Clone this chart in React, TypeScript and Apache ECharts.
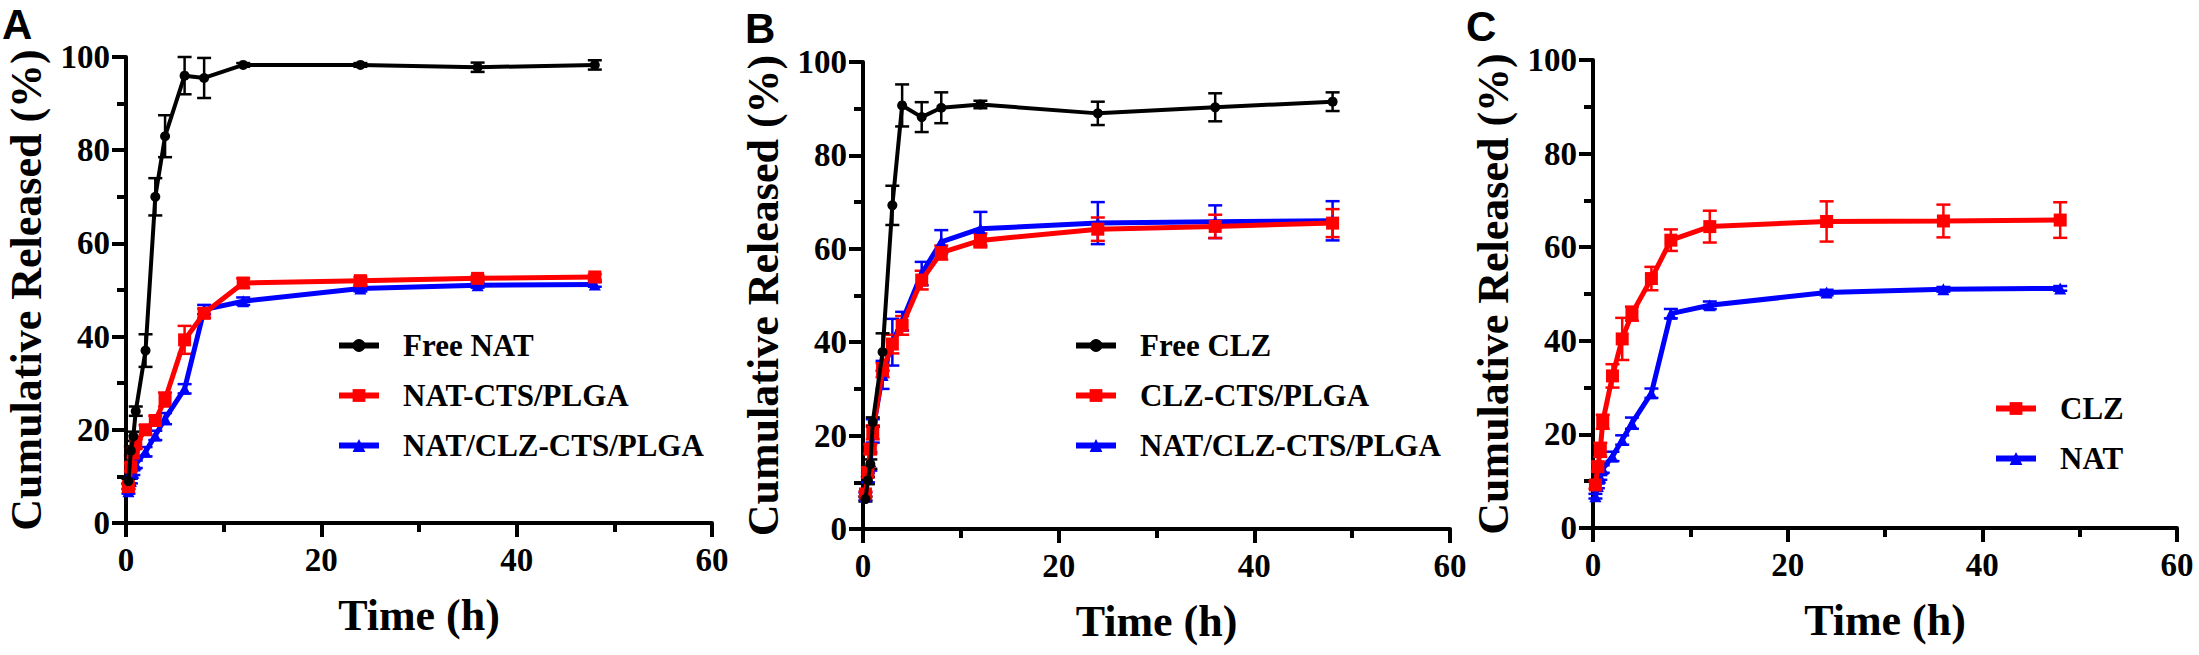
import React, { useEffect, useRef } from "react";
import * as echarts from "echarts";

// ---------- data ----------
const timeH = [0.25, 0.5, 0.75, 1, 2, 3, 4, 6, 8, 12, 24, 36, 48];
const xTicks = [0, 20, 40, 60];
const yTicks = [0, 20, 40, 60, 80, 100];

// Panel A
const freeNat = [9.0, 15.5, 18.6, 24.0, 37.0, 70.0, 83.0, 96.0, 95.5, 98.3, 98.3, 97.8, 98.3];
const freeNatSd = [0.5, 1, 1, 1, 3.5, 4, 4.5, 4, 4.3, 0.4, 0.4, 1, 1];
const natCtsPlga = [7.8, 12.0, 15.0, 17.0, 20.0, 22.0, 26.5, 39.3, 45.0, 51.5, 52.0, 52.5, 52.8];
const natCtsPlgaSd = [0.5, 0.8, 0.8, 1, 1, 1, 1.5, 3, 1, 1, 0.8, 0.6, 0.6];
const natClzA = [6.8, 9.0, 10.8, 12.6, 15.3, 18.8, 22.4, 28.8, 45.8, 47.6, 50.3, 51.0, 51.2];
const natClzASd = [0.5, 0.5, 0.5, 0.8, 1, 1, 1.2, 1, 1, 0.8, 0.6, 0.5, 0.5];

// Panel B
const freeClz = [6.4, 10.4, 13.9, 22.9, 37.9, 69.3, 90.7, 88.2, 90.2, 90.9, 89.0, 90.3, 91.5];
const freeClzSd = [0.5, 0.8, 1, 1, 4, 4.2, 4.5, 3.2, 3.3, 0.8, 2.5, 3, 2];
const clzCtsPlga = [7.5, 12.1, 17.1, 20.7, 34.0, 39.6, 43.6, 53.3, 59.2, 61.8, 64.2, 64.8, 65.5];
const clzCtsPlgaSd = [0.5, 1, 1, 1.5, 1.5, 2, 2, 2, 1.5, 1.5, 2.5, 2.5, 3];
const natClzB = [7.0, 11.0, 14.5, 21.0, 33.0, 40.0, 44.5, 54.7, 61.5, 64.3, 65.5, 65.8, 66.0];
const natClzBSd = [0.8, 1, 2, 2.5, 3, 5, 2, 2.5, 2.5, 3.6, 4.5, 3.5, 4.2];

// Panel C
const clzC = [9.2, 13.1, 16.7, 22.7, 32.5, 40.4, 45.8, 53.3, 61.5, 64.4, 65.5, 65.6, 65.8];
const clzCSd = [0.8, 1, 1.5, 1.5, 2.5, 4.5, 1.5, 2.5, 2.3, 3.4, 4.3, 3.5, 3.8];
const natC = [6.8, 9.0, 10.8, 12.6, 15.3, 18.8, 22.4, 28.8, 45.8, 47.6, 50.3, 51.0, 51.2];
const natCSd = [0.5, 0.5, 0.5, 0.8, 1, 1, 1.2, 1, 1, 0.8, 0.6, 0.5, 0.5];

const legendA = ["Free NAT", "NAT-CTS/PLGA", "NAT/CLZ-CTS/PLGA"];
const legendB = ["Free CLZ", "CLZ-CTS/PLGA", "NAT/CLZ-CTS/PLGA"];
const legendC = ["CLZ", "NAT"];
const panelLetters = ["A", "B", "C"];

// ---------- styles ----------
const SERIF = '"Liberation Serif", "Times New Roman", serif';
const BLACK = "#000000";
const RED = "#ff0000";
const BLUE = "#0000ff";

const pairs = (vals: number[]) => timeH.map((t, i) => [t, vals[i]]);
const triples = (vals: number[], sd: number[]) => timeH.map((t, i) => [t, vals[i], sd[i]]);

function errorRender(color: string) {
  return (params: any, api: any) => {
    const x = api.value(0);
    const y = api.value(1);
    const sd = api.value(2);
    const hi = api.coord([x, y + sd]);
    const lo = api.coord([x, y - sd]);
    const half = 7;
    const st = { stroke: color, lineWidth: 2.5 };
    return {
      type: "group",
      children: [
        { type: "line", shape: { x1: hi[0], y1: hi[1], x2: lo[0], y2: lo[1] }, style: st },
        { type: "line", shape: { x1: hi[0] - half, y1: hi[1], x2: hi[0] + half, y2: hi[1] }, style: st },
        { type: "line", shape: { x1: lo[0] - half, y1: lo[1], x2: lo[0] + half, y2: lo[1] }, style: st },
      ],
    };
  };
}

function errSeries(idx: number, vals: number[], sd: number[], color: string) {
  return {
    type: "custom",
    xAxisIndex: idx,
    yAxisIndex: idx,
    renderItem: errorRender(color),
    data: triples(vals, sd),
    encode: { x: 0, y: 1 },
    silent: true,
    z: 1,
  };
}

function lineSeries(idx: number, name: string, vals: number[], color: string, symbol: string, size: number, width: number, z: number) {
  return {
    type: "line",
    name,
    xAxisIndex: idx,
    yAxisIndex: idx,
    data: pairs(vals),
    symbol,
    symbolSize: size,
    showAllSymbol: true,
    lineStyle: { color, width },
    itemStyle: { color },
    z,
  };
}

const axisCommon = {
  type: "value",
  axisLine: { show: true, onZero: false, lineStyle: { color: BLACK, width: 4 } },
  axisTick: { show: true, length: 14, lineStyle: { color: BLACK, width: 4 } },
  minorTick: { show: true, splitNumber: 2, length: 9, lineStyle: { color: BLACK, width: 4 } },
  splitLine: { show: false },
  minorSplitLine: { show: false },
  nameLocation: "middle",
  nameTextStyle: { fontFamily: SERIF, fontWeight: "bold", fontSize: 44, color: BLACK },
};

function xAxis(idx: number) {
  return {
    ...axisCommon,
    gridIndex: idx,
    min: xTicks[0],
    max: xTicks[xTicks.length - 1],
    interval: xTicks[1] - xTicks[0],
    axisLabel: { fontFamily: SERIF, fontWeight: "bold", fontSize: 33, color: BLACK, margin: 20 },
    name: "Time (h)",
    nameGap: 70,
  };
}

function yAxis(idx: number) {
  return {
    ...axisCommon,
    gridIndex: idx,
    min: yTicks[0],
    max: yTicks[yTicks.length - 1],
    interval: yTicks[1] - yTicks[0],
    axisLabel: { fontFamily: SERIF, fontWeight: "bold", fontSize: 33, color: BLACK, margin: 16 },
    name: "Cumulative Released (%)",
    nameGap: 78,
  };
}

function legend(data: string[], left: number, top: number) {
  return {
    data,
    orient: "vertical",
    left,
    top,
    padding: 0,
    itemWidth: 40,
    itemHeight: 16,
    itemGap: 19,
    selectedMode: false,
    lineStyle: { width: 6 },
    textStyle: { fontFamily: SERIF, fontWeight: "bold", fontSize: 31, color: BLACK, padding: [0, 0, 0, 19] },
  };
}

export default function App() {
  const ref = useRef<HTMLDivElement>(null);
  useEffect(() => {
    if (!ref.current) return;
    const chart = echarts.init(ref.current, undefined, { renderer: "svg" });
    const letterFont = 'bold 42px "Liberation Sans", Arial, sans-serif';
    const option: any = {
      animation: false,
      backgroundColor: "#ffffff",
      grid: [
        { left: 126, top: 57, width: 586, height: 466 },
        { left: 863, top: 62, width: 587, height: 467 },
        { left: 1593, top: 60, width: 584, height: 468 },
      ],
      xAxis: [xAxis(0), xAxis(1), xAxis(2)],
      yAxis: [yAxis(0), yAxis(1), yAxis(2)],
      legend: [legend(legendA, 336, 330), legend(legendB, 1073, 330), legend(legendC, 1993, 393)],
      graphic: [
        { type: "text", left: 2, top: 3, style: { text: panelLetters[0], font: letterFont, fill: BLACK } },
        { type: "text", left: 745, top: 7, style: { text: panelLetters[1], font: letterFont, fill: BLACK } },
        { type: "text", left: 1466, top: 5, style: { text: panelLetters[2], font: letterFont, fill: BLACK } },
      ],
      series: [
        // A
        errSeries(0, natClzA, natClzASd, BLUE),
        errSeries(0, natCtsPlga, natCtsPlgaSd, RED),
        errSeries(0, freeNat, freeNatSd, BLACK),
        lineSeries(0, legendA[2], natClzA, BLUE, "triangle", 12, 5, 3),
        lineSeries(0, legendA[1], natCtsPlga, RED, "rect", 13, 5, 4),
        lineSeries(0, legendA[0], freeNat, BLACK, "circle", 10, 4, 5),
        // B
        errSeries(1, natClzB, natClzBSd, BLUE),
        errSeries(1, clzCtsPlga, clzCtsPlgaSd, RED),
        errSeries(1, freeClz, freeClzSd, BLACK),
        lineSeries(1, legendB[2], natClzB, BLUE, "triangle", 12, 5, 3),
        lineSeries(1, legendB[1], clzCtsPlga, RED, "rect", 13, 5, 4),
        lineSeries(1, legendB[0], freeClz, BLACK, "circle", 10, 4, 5),
        // C
        errSeries(2, natC, natCSd, BLUE),
        errSeries(2, clzC, clzCSd, RED),
        lineSeries(2, legendC[1], natC, BLUE, "triangle", 12, 5, 3),
        lineSeries(2, legendC[0], clzC, RED, "rect", 13, 5, 4),
      ],
    };
    chart.setOption(option);
    return () => chart.dispose();
  }, []);
  return (
    <div
      ref={ref}
      style={{ position: "absolute", left: 0, top: 0, width: 2199, height: 655, background: "#fff" }}
    />
  );
}
